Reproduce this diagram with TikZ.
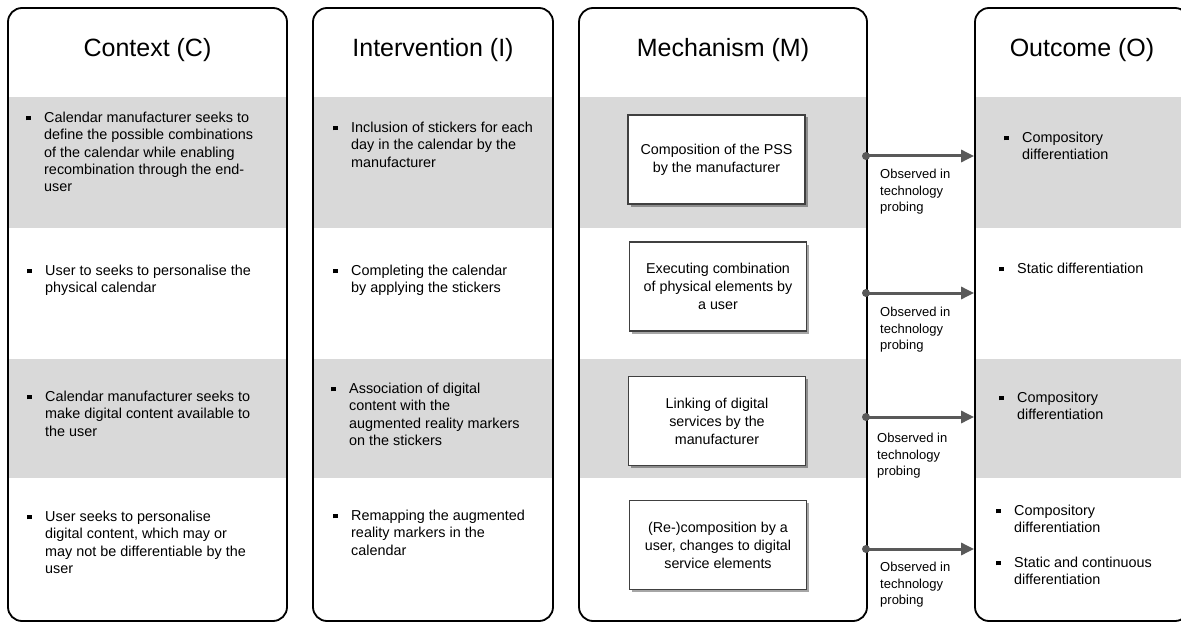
\documentclass[tikz,border=0pt]{standalone}
\usepackage{fontspec}
\setmainfont{Liberation Sans}
\usetikzlibrary{arrows.meta,shadows}
\definecolor{band}{HTML}{D9D9D9}
\definecolor{arrowgray}{HTML}{595959}
\definecolor{boxedge}{HTML}{404040}
\newcommand{\bsq}{\llap{\raisebox{2.3pt}{\rule{4.6pt}{4.6pt}}\hspace{13.5pt}}}
\tikzset{
  colbox/.style={draw=black, line width=1.8pt, rounded corners=14pt, inner sep=0pt},
  coltitle/.style={font=\fontsize{25}{30}\selectfont, anchor=center, inner sep=0pt},
  itemtext/.style={font=\fontsize{14.4}{17.3}\selectfont, anchor=north west, inner sep=0pt, align=left},
  mbox/.style={draw=boxedge, line width=1.5pt, fill=white, minimum width=177pt, minimum height=89pt,
    align=center, inner sep=2pt, font=\fontsize{14.3}{18}\selectfont,
    drop shadow={shadow xshift=2.5pt, shadow yshift=-2.5pt, opacity=0.35, fill=black}},
  obslabel/.style={font=\fontsize{13}{16.5}\selectfont, anchor=north west, inner sep=0pt, align=left},
  flowarrow/.style={draw=arrowgray, line width=3pt, -{Triangle[length=13pt, width=12pt]}},
  startdot/.style={circle, fill=arrowgray, inner sep=0pt, minimum size=8pt}
}
\begin{document}
\begin{tikzpicture}[x=1pt, y=-1pt]
\useasboundingbox (0,0) rectangle (1181,623);
\clip (0,0) rectangle (1181,623);

% grey bands
\foreach \xa/\xb in {8/287, 313/553, 579/867, 975/1189}{
  \fill[band] (\xa,97) rectangle (\xb,228);
  \fill[band] (\xa,359) rectangle (\xb,478);
}

% columns
\node[colbox, minimum width=279pt, minimum height=613pt] (C) at (147.5,314.5) {};
\node[colbox, minimum width=240pt, minimum height=613pt] (I) at (433,314.5) {};
\node[colbox, minimum width=288pt, minimum height=613pt] (M) at (723,314.5) {};
\node[colbox, minimum width=214pt, minimum height=613pt] (O) at (1082,314.5) {};

% titles
\node[coltitle] (tC) at (147.5,50) {Context (C)};
\node[coltitle] (tI) at (433,50) {Intervention (I)};
\node[coltitle] (tM) at (723,50) {Mechanism (M)};
\node[coltitle] (tO) at (1082,50) {Outcome (O)};

% context items
\node[itemtext] (c1) at (44,112) {\bsq Calendar manufacturer seeks to\\define the possible combinations\\of the calendar while enabling\\recombination through the end-\\user};
\node[itemtext] (c2) at (45,265) {\bsq User to seeks to personalise the\\physical calendar};
\node[itemtext] (c3) at (45,391) {\bsq Calendar manufacturer seeks to\\make digital content available to\\the user};
\node[itemtext] (c4) at (45,511) {\bsq User seeks to personalise\\digital content, which may or\\may not be differentiable by the\\user};

% intervention items
\node[itemtext] (i1) at (351,122) {\bsq Inclusion of stickers for each\\day in the calendar by the\\manufacturer};
\node[itemtext] (i2) at (351,265) {\bsq Completing the calendar\\by applying the stickers};
\node[itemtext] (i3) at (349,383) {\bsq Association of digital\\content with the\\augmented reality markers\\on the stickers};
\node[itemtext] (i4) at (351,510) {\bsq Remapping the augmented\\reality markers in the\\calendar};

% mechanism boxes
\node[mbox] (m1) at (716.5,159.5) {Composition of the PSS\\by the manufacturer};
\node[mbox] (m2) at (718,286.5) {Executing combination\\of physical elements by\\a user};
\node[mbox] (m3) at (717,421) {Linking of digital\\services by the\\manufacturer};
\node[mbox] (m4) at (718,545) {(Re-)composition by a\\user, changes to digital\\service elements};

% outcome items
\node[itemtext] (o1) at (1022,132) {\bsq Compository\\differentiation};
\node[itemtext] (o2) at (1017,263) {\bsq Static differentiation};
\node[itemtext] (o3) at (1017,392) {\bsq Compository\\differentiation};
\node[itemtext] (o4) at (1014,505) {\bsq Compository\\differentiation};
\node[itemtext] (o5) at (1014,557) {\bsq Static and continuous\\differentiation};

% arrows
\foreach \k/\yy in {1/156, 2/293, 3/417, 4/549}{
  \node[startdot] (d\k) at (866,\yy) {};
  \draw[flowarrow] (d\k.center) -- (O.west |- d\k.center);
}

% labels
\node[obslabel] (l1) at (880,169) {Observed in\\technology\\probing};
\node[obslabel] (l2) at (880,307) {Observed in\\technology\\probing};
\node[obslabel] (l3) at (877,433) {Observed in\\technology\\probing};
\node[obslabel] (l4) at (880,562) {Observed in\\technology\\probing};
\end{tikzpicture}
\end{document}
